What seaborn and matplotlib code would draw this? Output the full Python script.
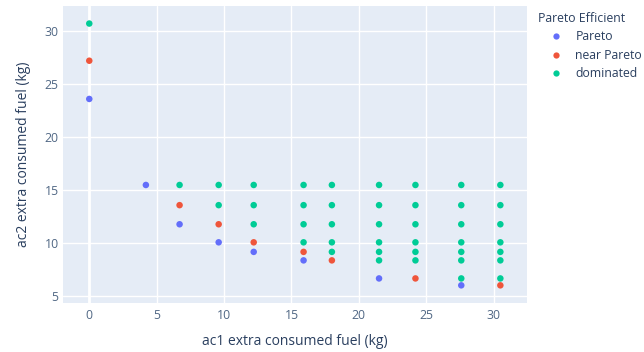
import matplotlib
matplotlib.use("Agg")
import matplotlib.pyplot as plt
from matplotlib.lines import Line2D
import seaborn as sns
import pandas as pd

# fuel consumption of each configuration (kg)
ac1_fuel = [
    0.0, 0.0, 0.0,
    4.2,
    6.7, 6.7, 6.7,
    9.6, 9.6, 9.6, 9.6,
    12.2, 12.2, 12.2, 12.2, 12.2,
    15.9, 15.9, 15.9, 15.9, 15.9, 15.9,
    18.0, 18.0, 18.0, 18.0, 18.0, 18.0,
    21.5, 21.5, 21.5, 21.5, 21.5, 21.5, 21.5,
    24.2, 24.2, 24.2, 24.2, 24.2, 24.2, 24.2,
    27.6, 27.6, 27.6, 27.6, 27.6, 27.6, 27.6, 27.6,
    30.5, 30.5, 30.5, 30.5, 30.5, 30.5, 30.5, 30.5,
]
ac2_fuel = [
    30.7, 27.2, 23.6,
    15.5,
    15.5, 13.6, 11.8,
    15.5, 13.6, 11.8, 10.1,
    15.5, 13.6, 11.8, 10.1, 9.2,
    15.5, 13.6, 11.8, 10.1, 9.2, 8.4,
    15.5, 13.6, 11.8, 10.1, 9.2, 8.4,
    15.5, 13.6, 11.8, 10.1, 9.2, 8.4, 6.7,
    15.5, 13.6, 11.8, 10.1, 9.2, 8.4, 6.7,
    15.5, 13.6, 11.8, 10.1, 9.2, 8.4, 6.7, 6.05,
    15.5, 13.6, 11.8, 10.1, 9.2, 8.4, 6.7, 6.05,
]
D, N, P = "dominated", "near Pareto", "Pareto"
efficiency = [
    D, N, P,
    P,
    D, N, P,
    D, D, N, P,
    D, D, D, N, P,
    D, D, D, D, N, P,
    D, D, D, D, D, N,
    D, D, D, D, D, D, P,
    D, D, D, D, D, D, N,
    D, D, D, D, D, D, D, P,
    D, D, D, D, D, D, D, N,
]
categories = ["Pareto", "near Pareto", "dominated"]
colors = ["#636EFA", "#EF553B", "#00CC96"]

x_ticks = [0, 5, 10, 15, 20, 25, 30]
y_ticks = [5, 10, 15, 20, 25, 30]

df = pd.DataFrame({
    "ac1 extra consumed fuel (kg)": ac1_fuel,
    "ac2 extra consumed fuel (kg)": ac2_fuel,
    "Pareto Efficient": efficiency,
})

sns.set_theme(style="darkgrid")
plt.rcParams["font.family"] = ["Open Sans", "DejaVu Sans"]
text_color = "#2a3f5f"

fig = plt.figure(figsize=(6.44, 3.52), dpi=100)
ax = fig.add_axes([0.0974, 0.1384, 0.8188 - 0.0974, 0.9838 - 0.1384])
ax.set_facecolor("#E5ECF6")

sns.scatterplot(
    data=df,
    x="ac1 extra consumed fuel (kg)",
    y="ac2 extra consumed fuel (kg)",
    hue="Pareto Efficient",
    hue_order=categories,
    palette=colors,
    s=22,
    linewidth=0,
    legend=False,
    ax=ax,
    zorder=3,
)

ax.set_xlim(-1.97, 32.5)
ax.set_ylim(4.36, 32.38)
ax.set_xticks(x_ticks)
ax.set_yticks(y_ticks)
ax.grid(True, color="white", linewidth=1.0)
ax.axvline(0, color="white", linewidth=2.0, zorder=1)
for s in ax.spines.values():
    s.set_visible(False)
ax.tick_params(axis="both", length=0, labelsize=8.8, colors="#506784")
ax.tick_params(axis="x", pad=4)
ax.tick_params(axis="y", pad=3)
ax.set_xlabel("ac1 extra consumed fuel (kg)", fontsize=10, color=text_color, labelpad=9)
ax.set_ylabel("ac2 extra consumed fuel (kg)", fontsize=10, color=text_color, labelpad=10)

handles = [
    Line2D([0], [0], marker="o", linestyle="", markersize=4.5,
           markerfacecolor=c, markeredgewidth=0, label=lab)
    for lab, c in zip(categories, colors)
]
leg = fig.legend(
    handles=handles,
    title="Pareto Efficient",
    loc="upper left",
    bbox_to_anchor=(0.828, 0.98),
    frameon=False,
    fontsize=8.8,
    title_fontsize=8.8,
    handlelength=3.0,
    handletextpad=0.05,
    labelspacing=0.45,
    borderaxespad=0,
)
leg._legend_box.align = "left"
for t in leg.get_texts():
    t.set_color(text_color)
leg.get_title().set_color(text_color)

fig.savefig("out.png", dpi=100)
